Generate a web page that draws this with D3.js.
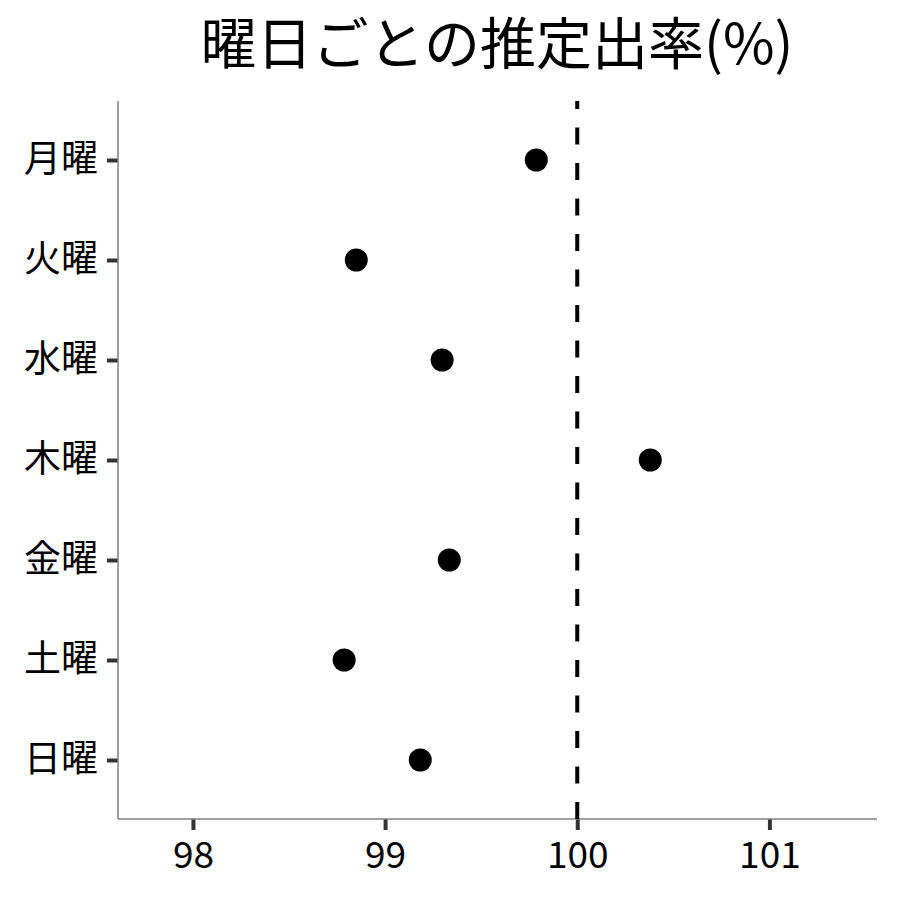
<!DOCTYPE html>
<html>
<head>
  <meta charset="utf-8">
  <script src="https://d3js.org/d3.v7.min.js"></script>
  <style>
    body { margin: 0; background: #fff; }
    text { font-family: "Noto Sans CJK JP", "Noto Sans", sans-serif; }
  </style>
</head>
<body>
<script>
  // data
  var days = ['月曜', '火曜', '水曜', '木曜', '金曜', '土曜', '日曜'];
  var rates = [99.787, 98.85, 99.297, 100.38, 99.334, 98.787, 99.183];
  var xTicks = [98, 99, 100, 101];
  var refValue = 100;
  var title = '曜日ごとの推定出率(%)';

  var width = 900, height = 900;
  var plotLeft = 118, plotRight = 877, plotTop = 101, plotBottom = 819;

  var svg = d3.select('body').append('svg')
    .attr('width', width)
    .attr('height', height);

  var x = d3.scaleLinear().domain([97.61, 101.56]).range([plotLeft, plotRight]);
  var y = d3.scalePoint().domain(days).range([plotTop, plotBottom]).padding(0.59);

  // title
  svg.append('text')
    .attr('x', 497)
    .attr('y', 64)
    .attr('text-anchor', 'middle')
    .style('font-size', '56px')
    .style('fill', '#000')
    .text(title);

  // x axis
  var xAxis = svg.append('g').attr('transform', 'translate(0,' + plotBottom + ')')
    .call(d3.axisBottom(x).tickValues(xTicks).tickSize(11).tickPadding(12).tickFormat(d3.format('d')));
  xAxis.select('.domain').remove();
  xAxis.selectAll('.tick line').attr('stroke', '#333').attr('stroke-width', 4);
  xAxis.selectAll('.tick text').style('font-size', '37px').attr('fill', '#000');

  // y axis
  var yAxis = svg.append('g').attr('transform', 'translate(' + plotLeft + ',0)')
    .call(d3.axisLeft(y).tickSize(11).tickPadding(9));
  yAxis.select('.domain').remove();
  yAxis.selectAll('.tick line').attr('stroke', '#333').attr('stroke-width', 4);
  yAxis.selectAll('.tick text').style('font-size', '37px').attr('fill', '#000');

  // axis lines
  svg.append('line')
    .attr('x1', plotLeft).attr('x2', plotLeft).attr('y1', plotTop).attr('y2', plotBottom)
    .attr('stroke', '#808080').attr('stroke-width', 1.5);
  svg.append('line')
    .attr('x1', plotLeft).attr('x2', plotRight).attr('y1', plotBottom).attr('y2', plotBottom)
    .attr('stroke', '#808080').attr('stroke-width', 1.5);

  // reference line, drawn bottom-up
  svg.append('line')
    .attr('x1', x(refValue)).attr('x2', x(refValue))
    .attr('y1', plotBottom).attr('y2', plotTop)
    .attr('stroke', '#000')
    .attr('stroke-width', 4)
    .attr('stroke-dasharray', '17,18.5');

  // points
  svg.selectAll('circle.pt')
    .data(days)
    .enter()
    .append('circle')
    .attr('class', 'pt')
    .attr('cx', function(d, i) { return x(rates[i]); })
    .attr('cy', function(d) { return y(d); })
    .attr('r', 11.5)
    .attr('fill', '#000');
</script>
</body>
</html>
